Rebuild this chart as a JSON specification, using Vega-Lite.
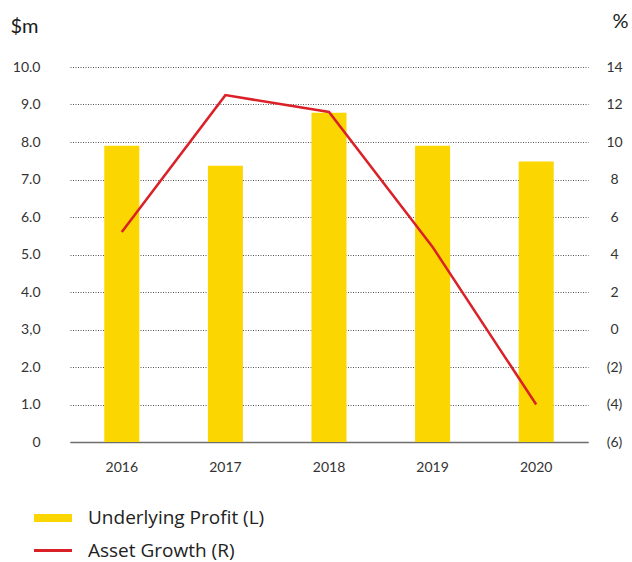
{
  "$schema": "https://vega.github.io/schema/vega-lite/v6.json",
  "autosize": {"type": "none"},
  "padding": {"left": 70, "top": 67, "right": 44, "bottom": 120},
  "width": 518,
  "height": 375,
  "background": "white",
  "config": {
    "view": {"stroke": null},
    "font": "Lato",
    "axis": {"labelFont": "Lato", "titleFont": "Lato"},
    "legend": {"labelFont": "Open Sans"}
  },
  "data": {
    "values": [
      {"year": "2016", "profit": 7.9, "growth": 5.2},
      {"year": "2017", "profit": 7.37, "growth": 12.5},
      {"year": "2018", "profit": 8.78, "growth": 11.6},
      {"year": "2019", "profit": 7.9, "growth": 4.4},
      {"year": "2020", "profit": 7.48, "growth": -4.0}
    ]
  },
  "encoding": {
    "x": {
      "field": "year",
      "type": "ordinal",
      "scale": {"paddingInner": 0.662, "paddingOuter": 0.331},
      "axis": {
        "title": null,
        "labelAngle": 0,
        "labelFontSize": 14,
        "labelColor": "#333333",
        "labelPadding": 18,
        "ticks": false,
        "domainColor": "#6e6e6e",
        "domainWidth": 1.5,
        "grid": false
      }
    }
  },
  "layer": [
    {
      "mark": {"type": "bar", "color": "#FBD600"},
      "encoding": {
        "y": {
          "field": "profit",
          "type": "quantitative",
          "scale": {"domain": [0, 10], "nice": false},
          "axis": {
            "title": "$m",
            "titleAngle": 0,
            "titleAlign": "left",
            "titleBaseline": "alphabetic",
            "titleX": -60,
            "titleY": -35,
            "titleFontSize": 20,
            "titleFontWeight": "normal",
            "titleColor": "#1a1a1a",
            "values": [0, 1, 2, 3, 4, 5, 6, 7, 8, 9, 10],
            "labelExpr": "datum.value == 0 ? '0' : datum.value == 3 ? '3,0' : format(datum.value, '.1f')",
            "labelFontSize": 14,
            "labelColor": "#333333",
            "labelPadding": 30,
            "ticks": false,
            "domain": false,
            "grid": true,
            "gridColor": "#555555",
            "gridWidth": 1,
            "gridDash": [1, 1.5]
          }
        },
        "color": {
          "datum": "Underlying Profit (L)",
          "type": "nominal",
          "scale": {
            "domain": ["Underlying Profit (L)", "Asset Growth (R)"],
            "range": ["#FBD600", "#DA2128"]
          },
          "legend": {
            "title": null,
            "orient": "none",
            "legendX": -36,
            "legendY": 443,
            "padding": 0,
            "clipHeight": 16,
            "rowPadding": 13.5,
            "symbolSize": 1444,
            "labelOffset": 16,
            "labelFontSize": 19,
            "labelLimit": 400,
            "labelColor": "#222222",
            "symbolStrokeWidth": 0,
            "encode": {
              "symbols": {
                "update": {
                  "shape": {"signal": "datum.value === 'Asset Growth (R)' ? 'M-1,-0.075H1V0.075H-1Z' : 'M-1,-0.21H1V0.21H-1Z'"},
                  "fill": {"signal": "datum.value === 'Asset Growth (R)' ? '#DA2128' : '#FBD600'"},
                  "fillOpacity": {"value": 1},
                  "strokeWidth": {"value": 0}
                }
              }
            }
          }
        }
      }
    },
    {
      "mark": {"type": "line", "color": "#DA2128", "strokeWidth": 2.5},
      "encoding": {
        "y": {
          "field": "growth",
          "type": "quantitative",
          "scale": {"domain": [-6, 14], "nice": false},
          "axis": {
            "orient": "right",
            "title": "%",
            "titleAngle": 0,
            "titleAlign": "left",
            "titleBaseline": "alphabetic",
            "titleX": 24,
            "titleY": -39.5,
            "titleFontSize": 20,
            "titleFontWeight": "normal",
            "titleColor": "#1a1a1a",
            "values": [-6, -4, -2, 0, 2, 4, 6, 8, 10, 12, 14],
            "labelExpr": "datum.value < 0 ? '(' + abs(datum.value) + ')' : '' + datum.value",
            "labelAlign": "center",
            "labelFontSize": 14,
            "labelColor": "#333333",
            "labelPadding": 26,
            "ticks": false,
            "domain": false,
            "grid": false
          }
        },
        "color": {"datum": "Asset Growth (R)", "type": "nominal"}
      }
    }
  ],
  "resolve": {"scale": {"y": "independent"}}
}
